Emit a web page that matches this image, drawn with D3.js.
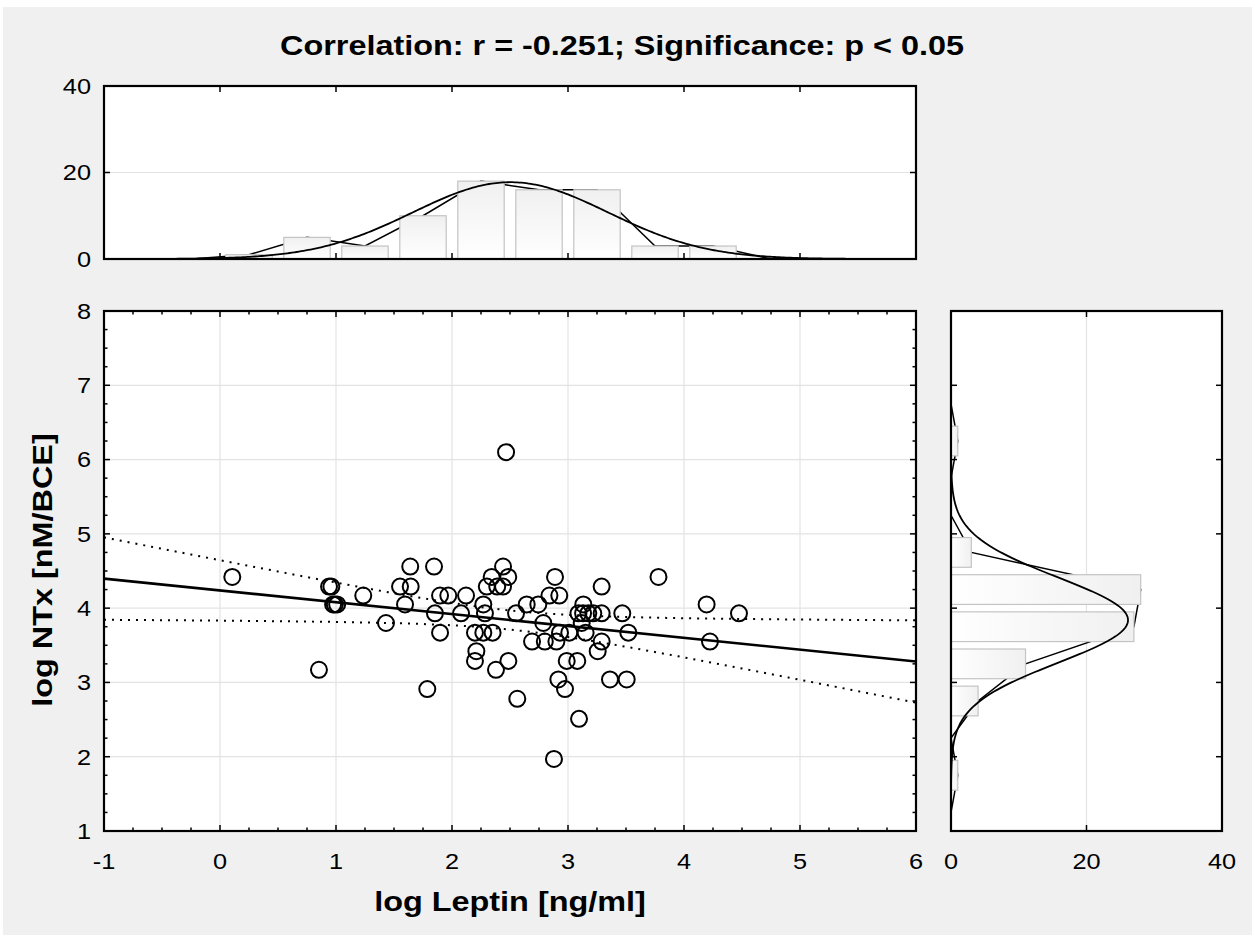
<!DOCTYPE html>
<html><head><meta charset="utf-8">
<script src="https://cdn.jsdelivr.net/npm/d3@7"></script>
<style>
body{margin:0;background:#fff}
svg{display:block}
text{font-family:"Liberation Sans",Arial,sans-serif;fill:#000}
</style>
</head><body>
<svg id="c" width="1255" height="938"></svg>
<script>
// ---------------- data ----------------
const leptin = [
  2.466,
  1.64, 1.845, 2.44,
  0.106, 2.342, 2.485, 2.888, 3.78,
  0.94, 0.96, 1.552, 1.644, 2.30, 2.39, 2.44, 3.29,
  1.235, 1.897, 1.968, 2.121, 2.84, 2.925,
  0.975, 0.99, 1.01, 1.595, 2.27, 2.644, 2.744, 3.132, 4.195,
  1.853, 2.078, 2.284, 2.552, 3.09, 3.13, 3.175, 3.218, 3.29, 3.468, 4.474,
  1.431, 2.787, 3.118,
  1.897, 2.198, 2.27, 2.35, 2.931, 3.011, 3.152, 3.52,
  2.69, 2.80, 2.90, 3.29, 4.224,
  2.21, 3.256,
  2.198, 2.486, 2.989, 3.08,
  0.853, 2.379,
  2.917, 3.362, 3.506,
  1.787, 2.974,
  2.563,
  3.095,
  2.879
];
const ntx = [
  6.10,
  4.56, 4.56, 4.56,
  4.42, 4.42, 4.42, 4.42, 4.42,
  4.29, 4.29, 4.29, 4.29, 4.29, 4.29, 4.29, 4.29,
  4.17, 4.17, 4.17, 4.17, 4.17, 4.17,
  4.05, 4.05, 4.05, 4.05, 4.05, 4.05, 4.05, 4.05, 4.05,
  3.93, 3.93, 3.93, 3.93, 3.93, 3.93, 3.93, 3.93, 3.93, 3.93, 3.93,
  3.80, 3.80, 3.80,
  3.67, 3.67, 3.67, 3.67, 3.67, 3.67, 3.67, 3.67,
  3.55, 3.55, 3.55, 3.55, 3.55,
  3.42, 3.42,
  3.29, 3.29, 3.29, 3.29,
  3.17, 3.17,
  3.04, 3.04, 3.04,
  2.91, 2.91,
  2.78,
  2.51,
  1.97
];
const xTicks = [-1, 0, 1, 2, 3, 4, 5, 6];
const yTicks = [1, 2, 3, 4, 5, 6, 7, 8];
const freqTicks = [0, 20, 40];
const leptinBins = [0, 0.5, 1, 1.5, 2, 2.5, 3, 3.5, 4];
const leptinCounts = [1, 5, 3, 10, 18, 16, 16, 3, 3];
const ntxBins = [1.5, 2, 2.5, 3, 3.5, 4, 4.5, 5, 5.5, 6];
const ntxCounts = [1, 0, 4, 11, 27, 28, 3, 0, 0, 1];
const binWidth = 0.5;
const titleText = "Correlation: r = -0.251; Significance: p < 0.05";
const xTitleText = "log Leptin [ng/ml]";
const yTitleText = "log NTx [nM/BCE]";

// ---------------- setup ----------------
const svg = d3.select("#c");
svg.append("rect").attr("x", 3).attr("y", 7).attr("width", 1249).attr("height", 928).attr("fill", "#f0f0f0");

const x = d3.scaleLinear([-1, 6], [104, 916]);
const y = d3.scaleLinear([1, 8], [831, 311]);
const fTop = d3.scaleLinear([0, 40], [259, 86]);
const fRight = d3.scaleLinear([0, 40], [951, 1222]);

const defs = svg.append("defs");
const gV = defs.append("linearGradient").attr("id", "gV").attr("x1", 0).attr("y1", 1).attr("x2", 0).attr("y2", 0);
gV.append("stop").attr("offset", 0).attr("stop-color", "#ffffff");
gV.append("stop").attr("offset", 1).attr("stop-color", "#f0f0f0");
const gH = defs.append("linearGradient").attr("id", "gH").attr("x1", 0).attr("y1", 0).attr("x2", 1).attr("y2", 0);
gH.append("stop").attr("offset", 0).attr("stop-color", "#ffffff");
gH.append("stop").attr("offset", 1).attr("stop-color", "#f0f0f0");

function clip(id, x0, y0, x1, y1) {
  defs.append("clipPath").attr("id", id).append("rect")
    .attr("x", x0).attr("y", y0).attr("width", x1 - x0).attr("height", y1 - y0);
}
clip("cTop", 104, 86, 916, 259);
clip("cMain", 104, 311, 916, 831);
clip("cRight", 951, 311, 1222, 831);

function panel(x0, y0, x1, y1) {
  svg.append("rect").attr("x", x0).attr("y", y0).attr("width", x1 - x0).attr("height", y1 - y0).attr("fill", "#fff");
}
panel(104, 86, 916, 259);
panel(104, 311, 916, 831);
panel(951, 311, 1222, 831);

const grid = "#e3e3e3";

// ---------------- statistics ----------------
const n = leptin.length;
const mx = d3.mean(leptin), my = d3.mean(ntx);
const sdx = d3.deviation(leptin), sdy = d3.deviation(ntx);
let sxx = 0, sxy = 0;
for (let i = 0; i < n; i++) { sxx += (leptin[i] - mx) ** 2; sxy += (leptin[i] - mx) * (ntx[i] - my); }
const slope = sxy / sxx, icpt = my - slope * mx;
let sse = 0;
for (let i = 0; i < n; i++) sse += (ntx[i] - icpt - slope * leptin[i]) ** 2;
const se = Math.sqrt(sse / (n - 2));
const tcrit = 1.993;
const pdf = (v, m, s) => Math.exp(-0.5 * ((v - m) / s) ** 2) / (s * Math.sqrt(2 * Math.PI));

// ---------------- top histogram ----------------
svg.append("line").attr("x1", 104).attr("x2", 916).attr("y1", fTop(20)).attr("y2", fTop(20)).attr("stroke", grid).attr("stroke-width", 1.2);
const gTopC = svg.append("g").attr("clip-path", "url(#cTop)");
const polyTop = [[leptinBins[0] - binWidth / 2, 0]]
  .concat(leptinBins.map((b, i) => [b + binWidth / 2, leptinCounts[i]]))
  .concat([[leptinBins[leptinBins.length - 1] + binWidth * 1.5, 0]]);
gTopC.append("path").attr("d", d3.line().x(d => x(d[0])).y(d => fTop(d[1]))(polyTop))
  .attr("fill", "none").attr("stroke", "#000").attr("stroke-width", 1.5);
gTopC.selectAll("rect.b").data(leptinBins).join("rect")
  .attr("x", d => x(d + binWidth * 0.1)).attr("width", d => x(d + binWidth * 0.9) - x(d + binWidth * 0.1))
  .attr("y", (d, i) => fTop(leptinCounts[i])).attr("height", (d, i) => fTop(0) - fTop(leptinCounts[i]))
  .attr("fill", "url(#gV)").attr("stroke", "#c4c4c4").attr("stroke-width", 1.2);
const xs = d3.range(-1, 6.001, 0.02);
gTopC.append("path").attr("d", d3.line().x(d => x(d)).y(d => fTop(n * binWidth * pdf(d, mx, sdx)))(xs))
  .attr("fill", "none").attr("stroke", "#000").attr("stroke-width", 1.8);

// ---------------- right histogram ----------------
svg.append("line").attr("y1", 311).attr("y2", 831).attr("x1", fRight(20)).attr("x2", fRight(20)).attr("stroke", grid).attr("stroke-width", 1.2);
const gRC = svg.append("g").attr("clip-path", "url(#cRight)");
const polyR = [[ntxBins[0] - binWidth / 2, 0]]
  .concat(ntxBins.map((b, i) => [b + binWidth / 2, ntxCounts[i]]))
  .concat([[ntxBins[ntxBins.length - 1] + binWidth * 1.5, 0]]);
gRC.append("path").attr("d", d3.line().x(d => fRight(d[1])).y(d => y(d[0]))(polyR))
  .attr("fill", "none").attr("stroke", "#000").attr("stroke-width", 1.5);
gRC.selectAll("rect.b").data(ntxBins.filter((d, i) => ntxCounts[i] > 0)).join("rect")
  .attr("y", d => y(d + binWidth * 0.9)).attr("height", d => y(d + binWidth * 0.1) - y(d + binWidth * 0.9))
  .attr("x", fRight(0)).attr("width", d => fRight(ntxCounts[ntxBins.indexOf(d)]) - fRight(0))
  .attr("fill", "url(#gH)").attr("stroke", "#c4c4c4").attr("stroke-width", 1.2);
const ys = d3.range(1, 8.001, 0.02);
gRC.append("path").attr("d", d3.line().x(d => fRight(n * binWidth * pdf(d, my, sdy))).y(d => y(d))(ys))
  .attr("fill", "none").attr("stroke", "#000").attr("stroke-width", 1.8);

// ---------------- scatter ----------------
const gM = svg.append("g");
gM.selectAll("line.gx").data(xTicks.slice(1, -1)).join("line")
  .attr("x1", d => x(d)).attr("x2", d => x(d)).attr("y1", 311).attr("y2", 831).attr("stroke", grid).attr("stroke-width", 1.2);
gM.selectAll("line.gy").data(yTicks.slice(1, -1)).join("line")
  .attr("y1", d => y(d)).attr("y2", d => y(d)).attr("x1", 104).attr("x2", 916).attr("stroke", grid).attr("stroke-width", 1.2);
const gMC = svg.append("g").attr("clip-path", "url(#cMain)");
const xr = d3.range(-1, 6.001, 0.05);
const fit = v => icpt + slope * v;
const half = v => tcrit * se * Math.sqrt(1 / n + (v - mx) ** 2 / sxx);
gMC.selectAll("circle").data(leptin).join("circle")
  .attr("cx", d => x(d)).attr("cy", (d, i) => y(ntx[i])).attr("r", 8)
  .attr("fill", "none").attr("stroke", "#000").attr("stroke-width", 2);
gMC.append("path").attr("d", d3.line().x(d => x(d)).y(d => y(fit(d) + half(d)))(xr))
  .attr("fill", "none").attr("stroke", "#000").attr("stroke-width", 2).attr("stroke-dasharray", "2,6");
gMC.append("path").attr("d", d3.line().x(d => x(d)).y(d => y(fit(d) - half(d)))(xr))
  .attr("fill", "none").attr("stroke", "#000").attr("stroke-width", 2).attr("stroke-dasharray", "2,6");
gMC.append("path").attr("d", d3.line().x(d => x(d)).y(d => y(fit(d)))([-1, 6]))
  .attr("fill", "none").attr("stroke", "#000").attr("stroke-width", 2.6);

// ---------------- frames & ticks ----------------
function hTicks(scale, vals, yPos, len, g) {
  g.selectAll(null).data(vals).join("line")
    .attr("x1", d => scale(d)).attr("x2", d => scale(d)).attr("y1", yPos).attr("y2", yPos + len)
    .attr("stroke", "#000").attr("stroke-width", 1.5);
}
function vTicks(scale, vals, xPos, len, g) {
  g.selectAll(null).data(vals).join("line")
    .attr("y1", d => scale(d)).attr("y2", d => scale(d)).attr("x1", xPos).attr("x2", xPos + len)
    .attr("stroke", "#000").attr("stroke-width", 1.5);
}
const gT = svg.append("g");
const xMinor = d3.range(-1, 6.001, 0.25).filter(v => !xTicks.includes(v));
const yMinor = d3.range(1, 8.001, 0.25).filter(v => !yTicks.includes(v));
hTicks(x, xTicks, 831, -6, gT); hTicks(x, xMinor, 831, -3.5, gT);
hTicks(x, xTicks, 311, 6, gT); hTicks(x, xMinor, 311, 3.5, gT);
vTicks(y, yTicks, 104, 6, gT); vTicks(y, yMinor, 104, 3.5, gT);
vTicks(y, yTicks, 916, -6, gT); vTicks(y, yMinor, 916, -3.5, gT);
hTicks(x, xTicks, 259, -6, gT); hTicks(x, xTicks, 86, 6, gT);
vTicks(fTop, freqTicks, 104, 6, gT); vTicks(fTop, freqTicks, 916, -6, gT);
vTicks(y, yTicks, 951, 6, gT); vTicks(y, yTicks, 1222, -6, gT);
hTicks(fRight, freqTicks, 831, -6, gT); hTicks(fRight, freqTicks, 311, 6, gT);

function frame(x0, y0, x1, y1) {
  svg.append("rect").attr("x", x0).attr("y", y0).attr("width", x1 - x0).attr("height", y1 - y0)
    .attr("fill", "none").attr("stroke", "#000").attr("stroke-width", 2.2);
}
frame(104, 86, 916, 259);
frame(104, 311, 916, 831);
frame(951, 311, 1222, 831);

// ---------------- labels ----------------
function label(g, tx, ty, txt, size, anchor, bold, sx, rot) {
  g.append("text")
    .attr("transform", `translate(${tx},${ty})` + (rot ? ` rotate(${rot})` : "") + ` scale(${sx},1)`)
    .attr("text-anchor", anchor)
    .style("font-size", size + "px")
    .style("font-weight", bold ? "bold" : "normal")
    .text(txt);
}
const gL = svg.append("g");
const fs = 22, fsx = 1.15;
xTicks.forEach(d => label(gL, x(d), 869, d, fs, "middle", false, fsx));
freqTicks.forEach(d => label(gL, fRight(d), 869, d, fs, "middle", false, fsx));
yTicks.forEach(d => label(gL, 91, y(d) + 7.8, d, fs, "end", false, fsx));
freqTicks.forEach(d => label(gL, 91, fTop(d) + 7.8, d, fs, "end", false, fsx));

label(svg, 622, 55, titleText, 27, "middle", true, 1.2);
label(svg, 510, 911, xTitleText, 27, "middle", true, 1.2);
label(svg, 52, 570, yTitleText, 27, "middle", true, 1.2, -90);
</script>
</body></html>
